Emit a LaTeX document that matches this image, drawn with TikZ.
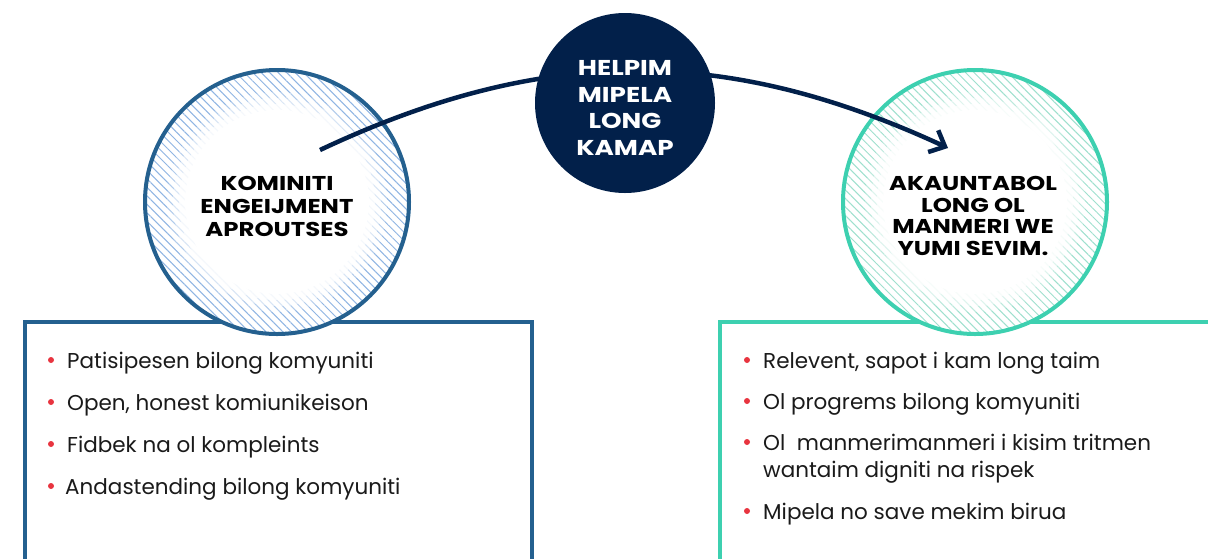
\documentclass[tikz,border=0pt]{standalone}
\usepackage{fontspec}
\setmainfont{Poppins}
\newfontfamily\headfont{Poppins}[FakeStretch=1.22]
\usetikzlibrary{arrows.meta,patterns.meta}
\definecolor{ceblue}{HTML}{24608F}
\definecolor{ceteal}{HTML}{3DD0B0}
\definecolor{navy}{HTML}{02204A}
\definecolor{dotred}{HTML}{E8343F}
\definecolor{hatchblue}{HTML}{8FB5E3}
\definecolor{hatchteal}{HTML}{9EE0CE}
\definecolor{bodyink}{HTML}{1A1A1A}
\tikzset{
  panel/.style={draw=#1, line width=4pt},
  ring/.style 2 args={circle, minimum size=264pt, inner sep=0pt, fill=white,
    draw=#1, line width=4pt,
    path picture={
      \fill[pattern={Lines[angle=-45,distance=6pt,line width=1pt]}, pattern color=#2]
        (path picture bounding box.south west) rectangle (path picture bounding box.north east);
      \foreach \r/\o in {110/0.3,104/0.5,98/0.75,92/1}{
        \fill[white, opacity=\o] (path picture bounding box.center) circle[radius=\r pt];
      }
    }},
  hub/.style={circle, minimum size=180pt, inner sep=0pt, fill=navy},
  title/.style={align=center, font=\headfont\fontsize{20}{23}\selectfont\bfseries, text=black},
  hubtext/.style={align=center, font=\headfont\fontsize{21.5}{26.7}\selectfont\bfseries, text=white},
  item/.style={anchor=base west, inner sep=0pt, font=\fontsize{21.5}{27}\selectfont, text=bodyink, align=left},
  dot/.style={circle, fill=dotred, inner sep=0pt, minimum size=6pt},
  flow/.style={draw=navy, line width=4.5pt, -{Straight Barb[length=13pt,width=24pt]}}
}
\begin{document}
\begin{tikzpicture}[x=1pt, y=-1pt]
  \useasboundingbox (0,0) rectangle (1208,558);
  \clip (0,0) rectangle (1208,558);

  % lower panels
  \draw[panel=ceblue] (25,322) rectangle (532,600);
  \draw[panel=ceteal] (720,322) rectangle (1240,600);

  % side circles
  \node[ring={ceblue}{hatchblue}] (lc) at (277,202) {};
  \node[ring={ceteal}{hatchteal}] (rc) at (975,202) {};

  % connecting arrow
  \coordinate (as) at (320,150);
  \coordinate (ae) at (948,148);
  \draw[flow] (as) to[bend left=25] (ae);

  % central circle
  \node[hub] (hc) at (625,103) {};
  \node[hubtext] (ht) at (625,108) {HELPIM\\MIPELA\\LONG\\KAMAP};

  % circle titles
  \node[title] (lt) at (277,206) {KOMINITI\\ENGEIJMENT\\APROUTSES};
  \node[title, font=\headfont\fontsize{20}{21.4}\selectfont\bfseries] (rt) at (973,216)
    {AKAUNTABOL\\LONG OL\\MANMERI WE\\YUMI SEVIM.};

  % left list
  \node[dot] (ld1) at (51,360) {};
  \node[item] (li1) at (67,368) {Patisipesen bilong komyuniti};
  \node[dot] (ld2) at (51,402) {};
  \node[item] (li2) at (67,410) {Open, honest komiunikeison};
  \node[dot] (ld3) at (51,444) {};
  \node[item] (li3) at (67,452) {Fidbek na ol kompleints};
  \node[dot] (ld4) at (51,486) {};
  \node[item] (li4) at (65,494) {Andastending bilong komyuniti};

  % right list
  \node[dot] (rd1) at (747,360) {};
  \node[item] (ri1) at (763,368) {Relevent, sapot i kam long taim};
  \node[dot] (rd2) at (747,401) {};
  \node[item] (ri2) at (763,409) {Ol progrems bilong komyuniti};
  \node[dot] (rd3) at (747,442) {};
  \node[item] (ri3) at (763,477) {Ol\ \ manmerimanmeri i kisim tritmen\\wantaim digniti na rispek};
  \node[dot] (rd4) at (747,511) {};
  \node[item] (ri4) at (763,519) {Mipela no save mekim birua};
\end{tikzpicture}
\end{document}
